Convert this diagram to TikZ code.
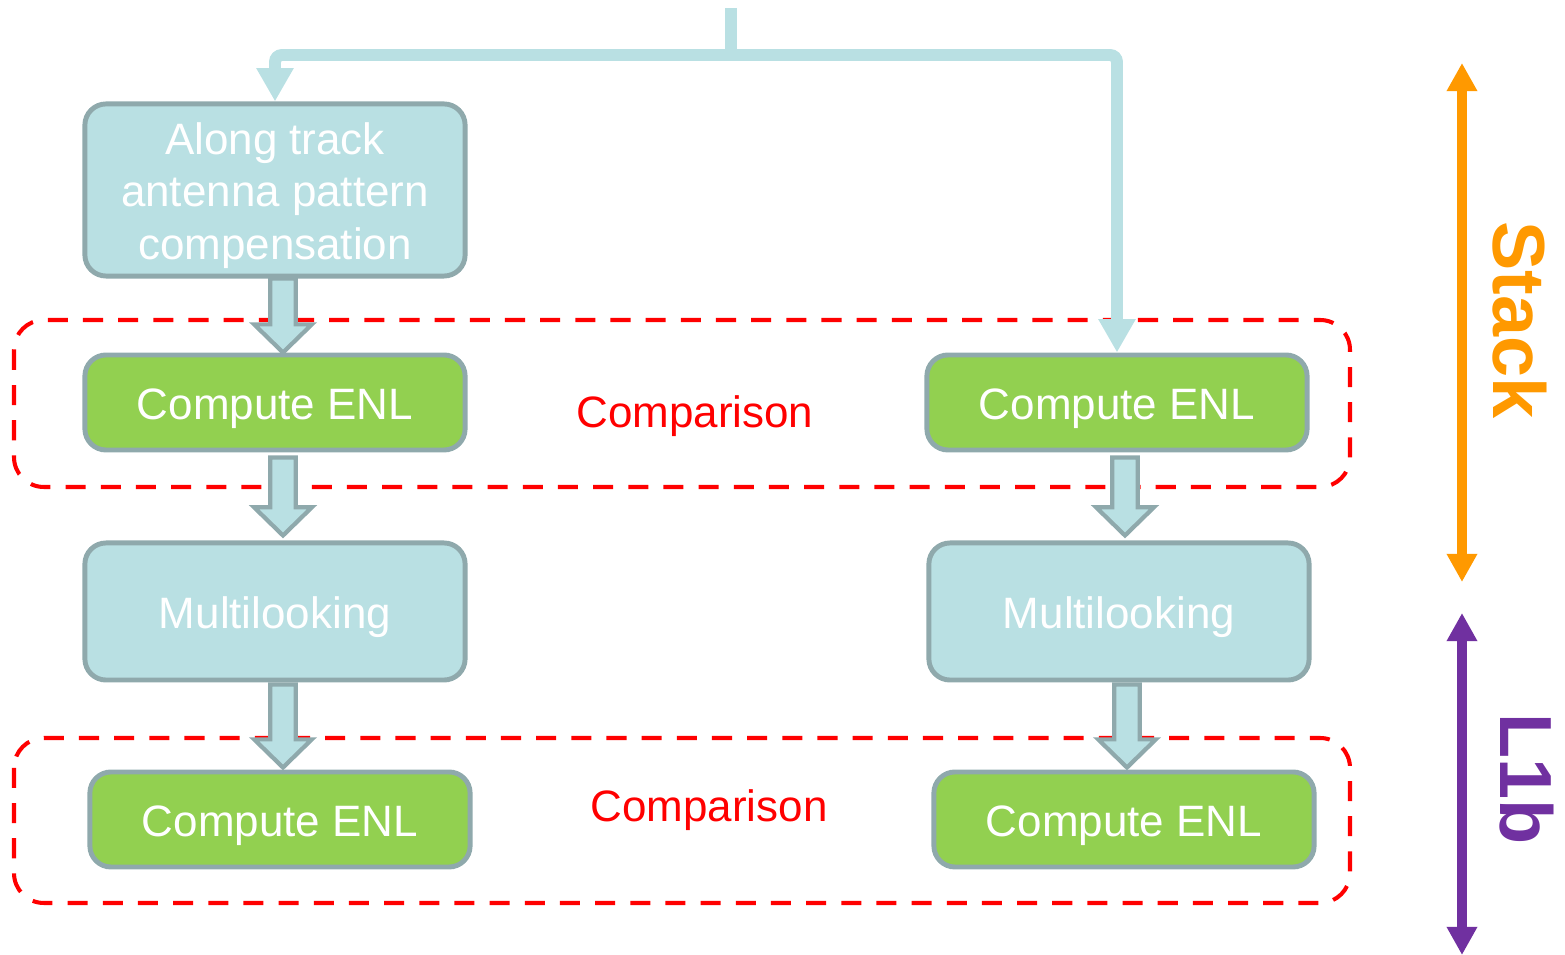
\documentclass[tikz,border=0pt]{standalone}
\usepackage{fontspec}
\setmainfont{Liberation Sans}
\usepackage{tikz}
\usetikzlibrary{arrows.meta,calc}

\definecolor{boxblue}{HTML}{B9E0E3}
\definecolor{boxgray}{HTML}{8FA9AC}
\definecolor{boxgreen}{HTML}{92D050}
\definecolor{stackorange}{HTML}{FF9900}
\definecolor{lonepurple}{HTML}{7030A0}

\tikzset{
    procbox/.style={draw=boxgray, line width=1.4pt, rounded corners=6pt,
        text=white, font=\fontsize{12.5}{15}\selectfont, align=center,
        minimum width=3.8cm, inner sep=0pt},
    enlbox/.style={procbox, fill=boxgreen, minimum height=0.95cm,
        text height=12.3pt, text depth=2.6pt},
    mlbox/.style={procbox, fill=boxblue, minimum height=1.37cm,
        text height=12.3pt, text depth=2.6pt},
    feed/.style={draw=boxblue, line width=3.4pt, rounded corners=2pt,
        -{Triangle[width=10pt,length=9.5pt]}},
    blockarrow/.style={draw=boxgray, fill=boxblue, line width=1.2pt, line join=miter},
    cmpregion/.style={draw=red, line width=1.15pt, rounded corners=8.5pt,
        dash pattern=on 5.7pt off 4.3pt},
    cmptext/.style={text=red, font=\fontsize{12.5}{15}\selectfont},
    sidearrow/.style={line width=2.85pt,
        {Triangle[width=8.2pt,length=8pt]}-{Triangle[width=8.2pt,length=8pt]}},
    sidelabel/.style={font=\fontsize{21}{25}\selectfont\bfseries, rotate=-90}
}

% block arrow from the bottom of #1 down to the top of #2, #3 = gap at the ends
\newcommand{\blockdown}[3]{%
    \path[blockarrow] let \p1=($(#1.south)+(8,#3)$), \p2=($(#2.north)+(0,-#3)$) in
        (\x1-3.6pt,\y1) -- (\x1-3.6pt,\y2+8pt) -- (\x1-8.2pt,\y2+8pt)
        -- (\x1,\y2) -- (\x1+8.2pt,\y2+8pt) -- (\x1+3.6pt,\y2+8pt)
        -- (\x1+3.6pt,\y1) -- cycle;
}

\begin{document}
\begin{tikzpicture}[x=0.01cm, y=-0.01cm]

    \useasboundingbox (0,0) rectangle (1565,955);

    % comparison regions
    \draw[cmpregion] (14,320) rectangle (1350,487);
    \draw[cmpregion] (14,738) rectangle (1350,903);

    \node[procbox, fill=boxblue, minimum height=1.72cm] (align) at (275,190)
        {\raisebox{-4.8pt}[0pt][0pt]{\begin{tabular}{@{}c@{}}Along track\\antenna pattern\\compensation\end{tabular}}};
    \node[enlbox] (enlA) at (275,402.5) {Compute ENL};
    \node[enlbox] (enlB) at (1117,402.5) {Compute ENL};
    \node[mlbox] (mlA) at (275,611.5) {Multilooking};
    \node[mlbox] (mlB) at (1119,611.5) {Multilooking};
    \node[enlbox] (enlC) at (280,819.5) {Compute ENL};
    \node[enlbox] (enlD) at (1124,819.5) {Compute ENL};

    \node[cmptext] (cmpA) at (695,416) {Comparison};
    \node[cmptext] (cmpB) at (709,810) {Comparison};

    % input split
    \coordinate (input) at (731,8);
    \coordinate (split) at (731,55);
    \draw[feed, -] (input) -- (split);
    \draw[feed] (split) -| (align.north);
    \draw[feed] (split) -| (enlB.north);

    \blockdown{align}{enlA}{0}
    \blockdown{enlA}{mlA}{5}
    \blockdown{mlA}{enlC}{2}
    \blockdown{enlB}{mlB}{5}
    \blockdown{mlB}{enlD}{2}

    % processing levels
    \coordinate (stackTop) at (1462,63);
    \coordinate (stackBot) at (1462,582);
    \coordinate (lbTop) at (1462,613);
    \coordinate (lbBot) at (1462,955);
    \draw[sidearrow, stackorange] (stackTop) -- (stackBot);
    \draw[sidearrow, lonepurple] (lbTop) -- (lbBot);
    \node[sidelabel, text=stackorange] (stack) at (1520,320) {Stack};
    \node[sidelabel, text=lonepurple] (lone) at (1527,779) {L1b};

\end{tikzpicture}
\end{document}
